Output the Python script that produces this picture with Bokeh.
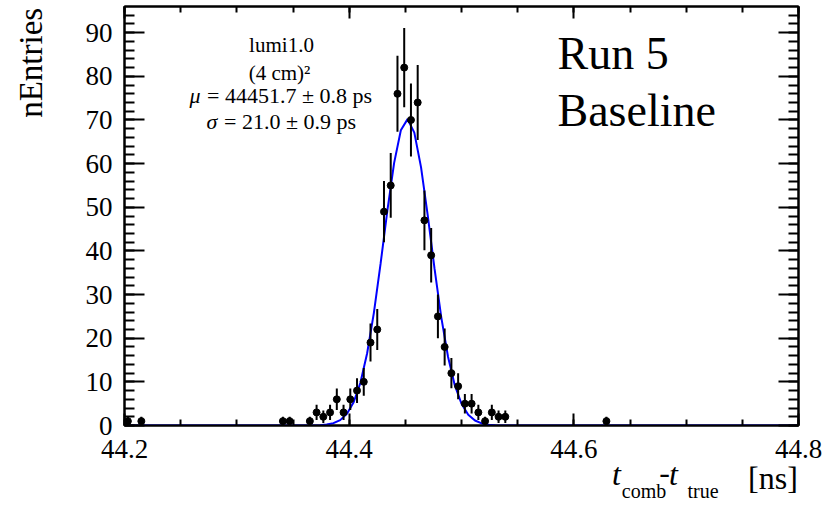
import numpy as np
from bokeh.plotting import figure
from bokeh.models import (Range1d, FixedTicker, PrintfTickFormatter, LinearAxis,
                          Label, ColumnDataSource, CustomLabelingPolicy)
from bokeh.embed import file_html
from bokeh.resources import INLINE

# ---- data (non-empty bins only) ----
bin_centers = [44.203, 44.215, 44.341, 44.347, 44.365, 44.371, 44.377, 44.383,
               44.389, 44.395, 44.401, 44.407, 44.413, 44.419, 44.425, 44.431,
               44.437, 44.443, 44.449, 44.455, 44.461, 44.467, 44.473, 44.479,
               44.485, 44.491, 44.497, 44.503, 44.509, 44.515, 44.521, 44.527,
               44.533, 44.539, 44.629]
counts = [1, 1, 1, 1, 1, 3, 2, 3,
          6, 3, 6, 8, 10, 19, 22, 49,
          55, 76, 82, 70, 74, 47, 39, 25,
          18, 12, 9, 5, 5, 3, 1, 3,
          2, 2, 1]

# Gaussian fit parameters (amplitude in entries, mean/sigma in ns)
FIT_AMP = 70.2
FIT_MEAN = 44.4517
FIT_SIGMA = 0.0210

x_major_ticks = [44.2, 44.4, 44.6, 44.8]
x_minor_ticks = [44.2, 44.25, 44.3, 44.35, 44.4, 44.45, 44.5, 44.55,
                 44.6, 44.65, 44.7, 44.75, 44.8]
y_major_ticks = [0, 10, 20, 30, 40, 50, 60, 70, 80, 90]
y_minor_ticks = list(range(0, 96, 2))

FONT = "Liberation Serif"

# ---- figure ----
p = figure(width=832, height=506, output_backend="svg", toolbar_location=None,
           x_range=Range1d(44.2, 44.8), y_range=Range1d(0, 96.0),
           min_border_left=124, min_border_right=34,
           min_border_top=6, min_border_bottom=81)
p.grid.visible = False
p.outline_line_color = "black"
p.outline_line_width = 2
p.background_fill_color = "white"
p.border_fill_color = "white"

NO_LABELS = CustomLabelingPolicy(code="for (const i of indices) { indices.unset(i) } return indices")


def style_axis(ax, major_in, minor_in, show_labels, standoff=8):
    ax.axis_line_color = "black"
    ax.axis_line_width = 2
    ax.major_tick_in = major_in
    ax.major_tick_out = 0
    ax.minor_tick_in = minor_in
    ax.minor_tick_out = 0
    ax.major_tick_line_color = "black"
    ax.minor_tick_line_color = "black"
    ax.major_tick_line_width = 2
    ax.minor_tick_line_width = 2
    ax.major_label_text_font = FONT
    ax.major_label_text_color = "black"
    ax.major_label_standoff = standoff
    if show_labels:
        ax.major_label_text_font_size = "27px"
    else:
        ax.major_label_text_font_size = "0px"
        ax.major_label_standoff = 0
        ax.major_label_policy = NO_LABELS


xt = FixedTicker(ticks=x_major_ticks, minor_ticks=x_minor_ticks)
yt = FixedTicker(ticks=y_major_ticks, minor_ticks=y_minor_ticks)

xa = p.xaxis[0]
xa.ticker = xt
xa.formatter = PrintfTickFormatter(format="%.1f")
style_axis(xa, 12, 6, True, standoff=14)

ya = p.yaxis[0]
ya.ticker = yt
ya.formatter = PrintfTickFormatter(format="%d")
style_axis(ya, 20, 10, True, standoff=12)

top = LinearAxis(ticker=FixedTicker(ticks=x_major_ticks, minor_ticks=x_minor_ticks))
style_axis(top, 12, 6, False)
top.major_label_overrides = {t: "" for t in x_major_ticks}
p.add_layout(top, "above")

right = LinearAxis(ticker=FixedTicker(ticks=y_major_ticks, minor_ticks=y_minor_ticks))
style_axis(right, 20, 10, False)
right.major_label_overrides = {t: "" for t in y_major_ticks}
p.add_layout(right, "right")


# ---- axis titles, carried as tick labels of unlined extra axes ----
def text_axis(side, pos_to_text, size, standoff, italic=False, orientation="horizontal"):
    ax = LinearAxis(ticker=FixedTicker(ticks=list(pos_to_text.keys())))
    ax.major_label_overrides = dict(pos_to_text)
    ax.axis_line_color = None
    ax.major_tick_line_color = None
    ax.minor_tick_line_color = None
    ax.major_tick_in = 0
    ax.major_tick_out = 0
    ax.minor_tick_in = 0
    ax.minor_tick_out = 0
    ax.major_label_text_font = FONT
    ax.major_label_text_font_size = f"{size}px"
    ax.major_label_text_font_style = "italic" if italic else "normal"
    ax.major_label_text_color = "black"
    ax.major_label_standoff = standoff
    ax.major_label_orientation = orientation
    p.add_layout(ax, side)
    return ax


# y title: "nEntries", right-aligned to the top of the axis
text_axis("left", {83.1: "nEntries"}, 33, 33, orientation="vertical")

# x title: t_comb - t_true [ns]
text_axis("below", {44.638: "t", 44.6887: "t"}, 32, -5, italic=True)
text_axis("below", {44.7773: "[ns]"}, 32, -35)
text_axis("below", {44.6807: "-"}, 32, -37)
text_axis("below", {44.6625: "comb", 44.715: "true"}, 20, -19)

# ---- fit curve ----
xf = np.linspace(44.2, 44.8, 101)
yf = FIT_AMP * np.exp(-0.5 * ((xf - FIT_MEAN) / FIT_SIGMA) ** 2)
p.line(xf, yf, line_color="#0000ff", line_width=2)

# ---- histogram points with Poisson errors ----
cnt = np.array(counts, dtype=float)
err = np.sqrt(cnt)
src = ColumnDataSource(dict(x=bin_centers, y=counts, lo=cnt - err, hi=cnt + err))
p.segment(x0="x", y0="lo", x1="x", y1="hi", source=src, line_color="black", line_width=2)
p.scatter(x="x", y="y", source=src, size=7, color="black")


def lab(text, x, y, size, align="left", italic=False):
    p.add_layout(Label(x=x, y=y, x_units="screen", y_units="screen", text=text,
                       text_font=FONT, text_font_size=f"{size}px",
                       text_font_style="italic" if italic else "normal",
                       text_align=align, text_baseline="alphabetic",
                       text_color="black"))


# fit info
lab("lumi1.0", 157, 381, 21, align="center")
lab("(4 cm)\u00b2", 155, 353, 21, align="center")
lab("\u03bc", 65, 330, 22, italic=True)
lab("\u00a0= 44451.7 \u00b1 0.8 ps", 77, 330, 22)
lab("\u03c3", 82, 304, 22, italic=True)
lab("\u00a0= 21.0 \u00b1 0.9 ps", 94, 304, 22)

# run tag
lab("Run 5", 433, 372, 46)
lab("Baseline", 433, 315, 46)

open("out.html", "w").write(file_html(p, INLINE))
